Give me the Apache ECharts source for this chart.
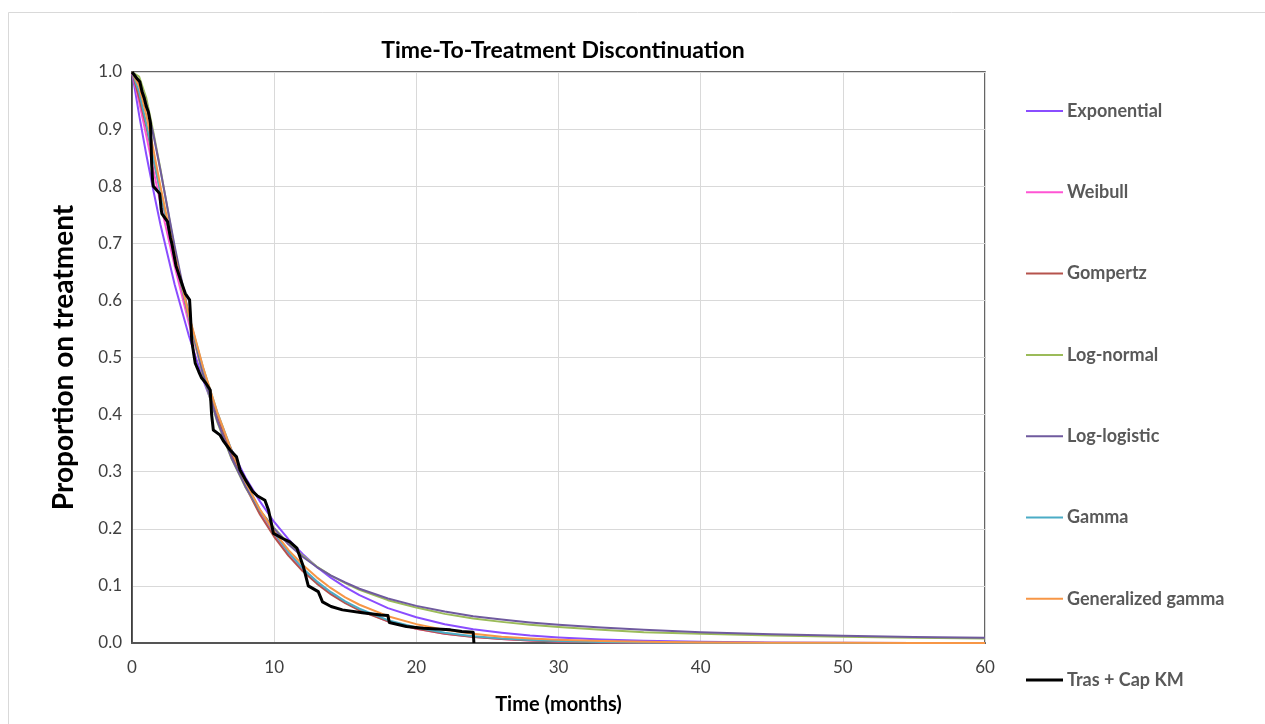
<!DOCTYPE html>
<html>
<head>
<meta charset="utf-8">
<script src="https://cdn.jsdelivr.net/npm/echarts@6/dist/echarts.min.js"></script>
<style>
html,body{margin:0;padding:0;background:#fff;}
#c{width:1265px;height:724px;}
</style>
</head>
<body>
<div id="c"></div>
<script>
// ---- Data ----
const fitTimes = [0,0.5,1,1.5,2,3,4,5,6,7,8,9,10,11,12,13,14,15,16,18,20,22,24,26,28,30,33,36,40,45,50,55,60];

const exponential = [1,0.925,0.856,0.793,0.733,0.628,0.538,0.461,0.395,0.338,0.289,0.248,0.212,0.182,0.156,0.133,0.114,0.098,0.084,0.061,0.045,0.033,0.024,0.018,0.013,0.0096,0.006,0.0038,0.002,0.0009,0.0004,0.0002,0.0001];
const weibull = [1,0.948,0.889,0.829,0.770,0.660,0.560,0.473,0.397,0.332,0.276,0.229,0.190,0.157,0.129,0.106,0.087,0.071,0.058,0.038,0.025,0.016,0.011,0.0068,0.0044,0.0028,0.0014,0.0007,0.0003,0.0001,0.00005,0.00002,0.00001];
const gompertz = [1,0.955,0.905,0.848,0.790,0.675,0.570,0.478,0.398,0.330,0.273,0.225,0.186,0.153,0.126,0.104,0.085,0.070,0.057,0.038,0.025,0.016,0.0105,0.0068,0.0044,0.0028,0.0014,0.0007,0.0003,0.0001,0.00005,0.00002,0.00001];
const lognormal = [1,0.992,0.955,0.895,0.830,0.690,0.570,0.468,0.387,0.323,0.272,0.232,0.201,0.175,0.153,0.134,0.118,0.105,0.093,0.075,0.062,0.051,0.043,0.037,0.032,0.028,0.023,0.019,0.016,0.013,0.011,0.0093,0.0080];
const loglogistic = [1,0.984,0.945,0.891,0.828,0.695,0.574,0.471,0.389,0.324,0.273,0.232,0.200,0.173,0.151,0.133,0.118,0.106,0.095,0.078,0.065,0.055,0.047,0.041,0.036,0.032,0.027,0.023,0.019,0.0154,0.0127,0.0107,0.0091];
const gamma = [1,0.965,0.910,0.850,0.790,0.675,0.572,0.482,0.404,0.338,0.281,0.233,0.193,0.159,0.131,0.108,0.089,0.073,0.060,0.040,0.027,0.018,0.012,0.008,0.0053,0.0035,0.0018,0.0009,0.0004,0.00015,0.00006,0.00002,0.00001];
const genGamma = [1,0.975,0.925,0.865,0.800,0.680,0.575,0.483,0.404,0.337,0.281,0.234,0.195,0.163,0.137,0.115,0.096,0.080,0.067,0.047,0.033,0.023,0.016,0.011,0.0078,0.0055,0.0033,0.002,0.001,0.0005,0.0003,0.0002,0.0001];

const kmTimes = [0,0.3,0.55,0.7,0.85,1.0,1.15,1.3,1.34,1.38,1.45,1.5,1.95,2.05,2.1,2.5,2.7,2.8,2.95,3.1,3.3,3.5,3.75,4.05,4.1,4.2,4.35,4.45,4.7,4.9,5.2,5.5,5.6,5.72,6.2,6.45,6.9,7.35,7.6,8.05,8.5,8.8,9.35,9.6,9.8,9.95,10.6,11.1,11.6,12.05,12.4,13.1,13.4,14.0,14.8,16.2,17.5,18.0,18.1,19.3,20.5,22.4,23.2,24.0,24.05];
const kmSurv  = [1,0.99,0.983,0.966,0.955,0.94,0.93,0.91,0.88,0.84,0.81,0.80,0.787,0.76,0.752,0.738,0.71,0.70,0.68,0.66,0.645,0.63,0.612,0.601,0.58,0.53,0.505,0.49,0.475,0.464,0.455,0.443,0.40,0.373,0.364,0.353,0.338,0.326,0.303,0.283,0.265,0.258,0.25,0.233,0.21,0.192,0.183,0.177,0.166,0.134,0.10,0.09,0.072,0.064,0.058,0.053,0.049,0.048,0.036,0.029,0.026,0.023,0.02,0.019,0];

const xTicks = [0,10,20,30,40,50,60];
const yTicks = [0,0.1,0.2,0.3,0.4,0.5,0.6,0.7,0.8,0.9,1.0];

const seriesNames = ['Exponential','Weibull','Gompertz','Log-normal','Log-logistic','Gamma','Generalized gamma','Tras + Cap KM'];
const seriesColors = ['#8a4dff','#ff55d4','#b5534c','#9bbb59','#6f5a9e','#4bacc6','#f79646','#000000'];
const fitSeries = [exponential,weibull,gompertz,lognormal,loglogistic,gamma,genGamma];

// ---- Chart ----
const chart = echarts.init(document.getElementById('c'), null, {renderer:'canvas'});
const FONT = 'Lato, "Open Sans", sans-serif';

const series = fitSeries.map((vals, i) => ({
  name: seriesNames[i],
  type: 'line',
  data: fitTimes.map((t, j) => [t, vals[j]]),
  smooth: false,
  showSymbol: false,
  symbol: 'none',
  lineStyle: {width: 2, color: seriesColors[i], join: 'round'},
  itemStyle: {color: seriesColors[i]},
  z: 2 + i
}));
series.push({
  name: seriesNames[7],
  type: 'line',
  data: kmTimes.map((t, j) => [t, kmSurv[j]]),
  showSymbol: false,
  symbol: 'none',
  lineStyle: {width: 3, color: '#000', join: 'round'},
  itemStyle: {color: '#000'},
  z: 20
});

chart.setOption({
  animation: false,
  backgroundColor: '#fff',
  graphic: [{
    type: 'rect',
    shape: {x: 8.5, y: 12.5, width: 1262, height: 720},
    style: {fill: 'none', stroke: '#d9d9d9', lineWidth: 1},
    silent: true, z: -10
  }],
  title: {
    text: 'Time-To-Treatment Discontinuation',
    left: 558, top: 34, textAlign: 'center',
    textStyle: {fontFamily: FONT, fontWeight: 'bold', fontSize: 23, color: '#000'}
  },
  legend: {
    orient: 'vertical',
    left: 1026, top: 102, padding: 0,
    itemWidth: 37, itemHeight: 18, itemGap: 63.3,
    data: seriesNames.map((n, i) => ({
      name: n,
      icon: 'path://M0,0 L37,0 L37,' + (i === 7 ? 3 : 2) + ' L0,' + (i === 7 ? 3 : 2) + ' Z'
    })),
    textStyle: {fontFamily: FONT, fontWeight: 'bold', fontSize: 18, color: '#595959', padding: [0,0,0,-1]},
    selectedMode: false
  },
  grid: {
    left: 132, right: 280, top: 72, bottom: 81,
    show: true, borderColor: '#333', borderWidth: 1.5, containLabel: false
  },
  xAxis: {
    type: 'value', min: 0, max: 60, interval: 10,
    name: 'Time (months)', nameLocation: 'middle', nameGap: 52,
    nameTextStyle: {fontFamily: FONT, fontWeight: 'bold', fontSize: 20, color: '#000'},
    axisLine: {show: true, lineStyle: {color: '#555', width: 2}},
    axisTick: {show: false},
    axisLabel: {fontFamily: FONT, fontSize: 17, color: '#404040', margin: 16,
      formatter: v => xTicks.includes(v) ? String(v) : ''},
    splitLine: {show: true, lineStyle: {color: '#d9d9d9', width: 1}}
  },
  yAxis: {
    type: 'value', min: 0, max: 1, interval: 0.1,
    name: 'Proportion on treatment', nameLocation: 'middle', nameGap: 54, nameRotate: 90,
    nameTextStyle: {fontFamily: FONT, fontWeight: 'bold', fontSize: 28, color: '#000'},
    axisLine: {show: true, lineStyle: {color: '#333', width: 1.5}},
    axisTick: {show: false},
    axisLabel: {fontFamily: FONT, fontSize: 17, color: '#404040', margin: 10,
      formatter: v => {
        const t = yTicks.find(y => Math.abs(y - v) < 1e-9);
        return t === undefined ? '' : t.toFixed(1);
      }},
    splitLine: {show: true, lineStyle: {color: '#d9d9d9', width: 1}}
  },
  series: series
});
</script>
</body>
</html>
